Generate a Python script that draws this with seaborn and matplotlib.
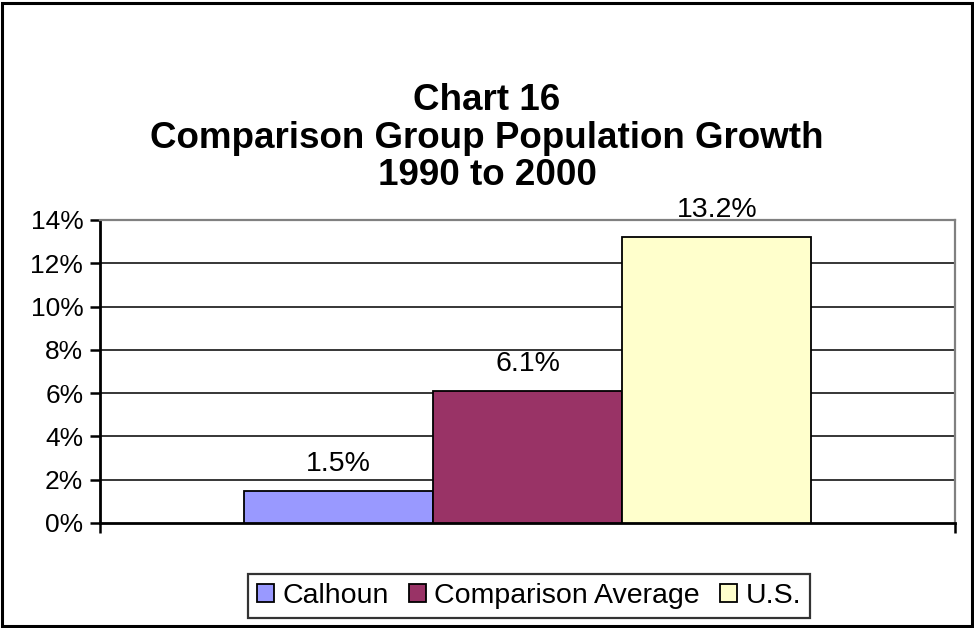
import matplotlib
matplotlib.use("Agg")
import matplotlib.pyplot as plt
import seaborn as sns
import pandas as pd
from matplotlib.patches import Rectangle

# chart data
series = ["Calhoun", "Comparison Average", "U.S."]
growth = [1.5, 6.1, 13.2]
colors = ["#9999FF", "#993366", "#FFFFCC"]
title_lines = ["Chart 16", "Comparison Group Population Growth", "1990 to 2000"]
y_ticks = [0, 2, 4, 6, 8, 10, 12, 14]

df = pd.DataFrame({"group": [""] * len(series), "series": series, "growth": growth})

sns.set_style("white")
plt.rcParams["font.family"] = ["Liberation Sans", "DejaVu Sans"]
plt.rcParams["text.color"] = "black"
plt.rcParams["xtick.color"] = "black"
plt.rcParams["ytick.color"] = "black"

fig = plt.figure(figsize=(9.74, 6.28), dpi=100)
ax = fig.add_axes([100 / 974, 1 - 523 / 628, 855 / 974, 303 / 628])

sns.barplot(data=df, x="group", y="growth", hue="series", hue_order=series,
            palette=dict(zip(series, colors)), width=0.664, dodge=True,
            edgecolor="black", linewidth=1.3, saturation=1, ax=ax, legend=False,
            zorder=3)

ax.set_ylim(0, 14)
ax.set_xlim(-0.5, 0.5)
ax.set_yticks(y_ticks)
ax.set_yticklabels([f"{t}%" for t in y_ticks])
ax.set_xticks([-0.5, 0.5])
ax.set_xticklabels(["", ""])
ax.set_xlabel("")
ax.set_ylabel("")
ax.tick_params(axis="both", direction="out", length=7, width=1.8, color="black",
               labelcolor="black", labelsize=19, pad=5, left=True, bottom=True)

for t in y_ticks[1:-1]:
    ax.axhline(t, color="black", linewidth=1.1, zorder=1)

for side in ["left", "bottom"]:
    ax.spines[side].set_color("black")
    ax.spines[side].set_linewidth(2)
for side in ["top", "right"]:
    ax.spines[side].set_visible(True)
    ax.spines[side].set_color("#808080")
    ax.spines[side].set_linewidth(1.6)

for cont in ax.containers:
    ax.bar_label(cont, fmt="%.1f%%", padding=10, fontsize=20.5, color="black")

fig.text(0.5, 1 - 138 / 628, "\n".join(title_lines), ha="center", va="center",
         fontsize=26.5, fontweight="bold", linespacing=1.1, color="black")

handles = [Rectangle((0, 0), 1, 1, facecolor=c, edgecolor="black", linewidth=1.3)
           for c in colors]
leg = fig.legend(handles, series, loc="center", bbox_to_anchor=(529 / 974, 1 - 596 / 628),
                 ncol=3, fontsize=20.5, frameon=True, fancybox=False, edgecolor="black",
                 handlelength=0.6, handleheight=0.6, handletextpad=0.3,
                 columnspacing=0.7, borderpad=0.3, borderaxespad=0)
leg.get_frame().set_linewidth(1.6)
for txt in leg.get_texts():
    txt.set_color("black")

# outer chart border
fig.patches.append(Rectangle((2 / 974, 2 / 628), 970 / 974, 623 / 628, transform=fig.transFigure,
                             fill=False, edgecolor="black", linewidth=2.2))

fig.savefig("out.png", dpi=100)
